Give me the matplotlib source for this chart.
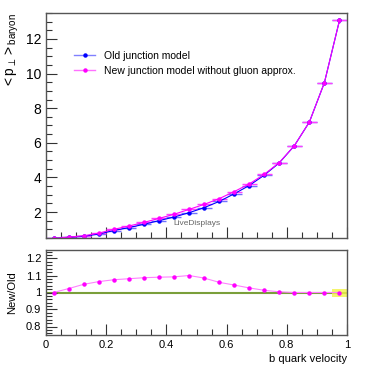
import numpy as np
import matplotlib
matplotlib.use("Agg")
import matplotlib.pyplot as plt
from matplotlib.lines import Line2D
from matplotlib.ticker import MultipleLocator, FormatStrFormatter

plt.rcParams['font.family'] = ['Liberation Sans', 'DejaVu Sans']
plt.rcParams['mathtext.fontset'] = 'custom'
plt.rcParams['mathtext.rm'] = 'Liberation Sans'
plt.rcParams['mathtext.it'] = 'Liberation Sans'

# bin centres of b quark velocity
velocity = [0.025, 0.075, 0.125, 0.175, 0.225, 0.275, 0.325, 0.375, 0.425, 0.475,
            0.525, 0.575, 0.625, 0.675, 0.725, 0.775, 0.825, 0.875, 0.925, 0.975]
half_width = 0.025

pt_old = [0.48, 0.54, 0.60, 0.73, 0.93, 1.10, 1.29, 1.50, 1.71, 1.96,
          2.25, 2.61, 3.05, 3.53, 4.13, 4.84, 5.83, 7.20, 9.48, 13.07]
pt_new = [0.48, 0.55, 0.63, 0.78, 1.00, 1.19, 1.40, 1.63, 1.87, 2.15,
          2.44, 2.77, 3.18, 3.62, 4.18, 4.86, 5.83, 7.20, 9.48, 13.07]
pt_err = [0.01, 0.01, 0.01, 0.01, 0.01, 0.01, 0.02, 0.02, 0.02, 0.02,
          0.02, 0.03, 0.03, 0.03, 0.04, 0.04, 0.05, 0.06, 0.08, 0.12]

ratio = [1.000, 1.023, 1.048, 1.064, 1.075, 1.081, 1.087, 1.090, 1.092, 1.100,
         1.085, 1.060, 1.044, 1.027, 1.013, 1.004, 1.000, 1.000, 1.000, 1.000]

W, H = 374, 370
fig = plt.figure(figsize=(W / 100, H / 100), dpi=100)
ax = fig.add_axes([46 / W, 1 - 238 / H, 301 / W, 225 / H])
axr = fig.add_axes([46 / W, 1 - 335 / H, 301 / W, 85 / H])

blue = '#0000ff'
mag = '#ff00ff'

ax.errorbar(velocity, pt_old, xerr=half_width, yerr=pt_err, fmt='o-', color=blue,
            ms=2.2, lw=0.8, elinewidth=1.0, ecolor='#7070ff', capsize=0)
ax.errorbar(velocity, pt_new, xerr=half_width, yerr=pt_err, fmt='o-', color=mag,
            ms=2.2, lw=0.8, elinewidth=1.0, ecolor='#ff40ff', capsize=0)

ax.set_xlim(0, 1)
ax.set_ylim(0.5, 13.5)
ax.xaxis.set_major_locator(MultipleLocator(0.2))
ax.xaxis.set_minor_locator(MultipleLocator(0.05))
ax.yaxis.set_minor_locator(MultipleLocator(0.5))
ax.set_yticks([2, 4, 6, 8, 10, 12])
ax.tick_params(axis='x', labelbottom=False)
ax.set_ylabel(r'${<}\mathrm{p}_{\perp}{>}_{\mathrm{baryon}}$', fontsize=10, loc='top', labelpad=3)
ax.text(0.5, 1.36, 'LiveDisplays', fontsize=6, color='#666666', ha='center', va='center')

handles = [Line2D([], [], color='#8080ff', lw=1.0, marker='o', ms=2.2,
                  mfc=blue, mec=blue),
           Line2D([], [], color='#ff70ff', lw=1.0, marker='o', ms=2.2,
                  mfc=mag, mec=mag)]
labels = ['Old junction model', 'New junction model without gluon approx.']
leg = ax.legend(handles, labels, loc='upper left', bbox_to_anchor=(0.07, 0.865),
                frameon=False, fontsize=7.5, handlelength=2.0, labelspacing=0.5,
                borderpad=0.2)

# ratio panel
axr.axhline(1.0, color='#7a9f3a', lw=1.5, zorder=1)
axr.fill_between([velocity[-1] - half_width, velocity[-1] + half_width], 0.975, 1.02,
                 color='#f2f24a', alpha=0.8, lw=0, zorder=2)
axr.plot(velocity, ratio, '-', color='#ff80ff', lw=0.8, zorder=3)
axr.plot(velocity, ratio, 'o', color=mag, ms=2.2, zorder=4)
axr.set_xlim(0, 1)
axr.set_ylim(0.75, 1.25)
axr.xaxis.set_major_locator(MultipleLocator(0.2))
axr.xaxis.set_minor_locator(MultipleLocator(0.05))
axr.xaxis.set_major_formatter(FormatStrFormatter('%g'))
axr.yaxis.set_major_locator(MultipleLocator(0.1))
axr.yaxis.set_minor_locator(MultipleLocator(0.02))
axr.yaxis.set_major_formatter(FormatStrFormatter('%g'))
axr.set_ylabel('New/Old', fontsize=8, labelpad=6)
axr.set_xlabel('b quark velocity', fontsize=8, loc='right', labelpad=3)

for a in (ax, axr):
    for s in a.spines.values():
        s.set_color('#555555')
        s.set_linewidth(1.0)
    a.tick_params(which='both', direction='in', top=False, right=False, color='#333333')
    a.tick_params(which='major', length=8, width=0.8)
    a.tick_params(which='minor', length=4, width=0.8)
ax.tick_params(axis='y', labelsize=10)
axr.tick_params(labelsize=8)

fig.savefig('out.png', dpi=100)
